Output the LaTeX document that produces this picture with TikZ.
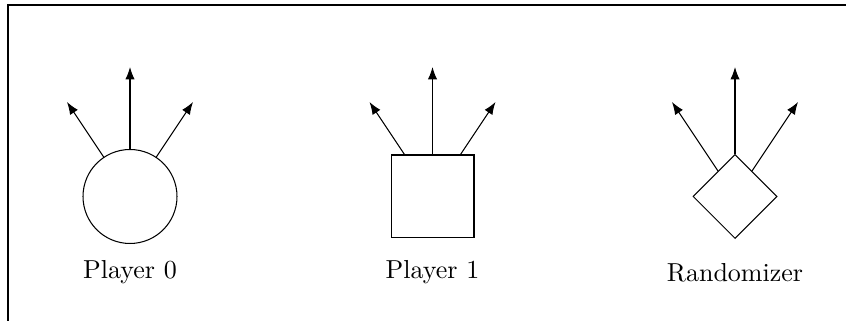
\documentclass[tikz,border=0pt]{standalone}
\usetikzlibrary{arrows.meta,shapes.geometric}
\begin{document}
\begin{tikzpicture}[x=0.3846pt,y=-0.3846pt,
  player/.style={draw,inner sep=0pt,fill=white},
  move/.style={-{Latex}},
  caption/.style={inner sep=0pt}]
\useasboundingbox (0,0) rectangle (846,321);
% partial outer frame
\draw[line width=0.6pt] (846,5) -- (8,5) -- (8,321);

% Player 0: circle
\node[player,circle,minimum size=36.15pt] (p0) at (130,196.5) {};
\coordinate (p0a) at (67,102);
\coordinate (p0b) at (130,67);
\coordinate (p0c) at (193,102);
\foreach \t in {p0a,p0b,p0c} \draw[move] (p0) -- (\t);
\node[caption] (p0t) at (130,272.5) {Player 0};

% Player 1: square
\node[player,rectangle,minimum size=31.9pt] (p1) at (432.5,196.5) {};
\coordinate (p1a) at (369.5,102);
\coordinate (p1b) at (432.5,67);
\coordinate (p1c) at (495.5,102);
\foreach \t in {p1a,p1b,p1c} \draw[move] (p1) -- (\t);
\node[caption] (p1t) at (432.5,272.5) {Player 1};

% Randomizer: diamond
\node[player,diamond,aspect=1,minimum size=32.3pt] (rz) at (735,196.5) {};
\coordinate (rza) at (672,102);
\coordinate (rzb) at (735,67);
\coordinate (rzc) at (798,102);
\foreach \t in {rza,rzb,rzc} \draw[move] (rz) -- (\t);
\node[caption] (rzt) at (735,272.5) {Randomizer};
\end{tikzpicture}
\end{document}
